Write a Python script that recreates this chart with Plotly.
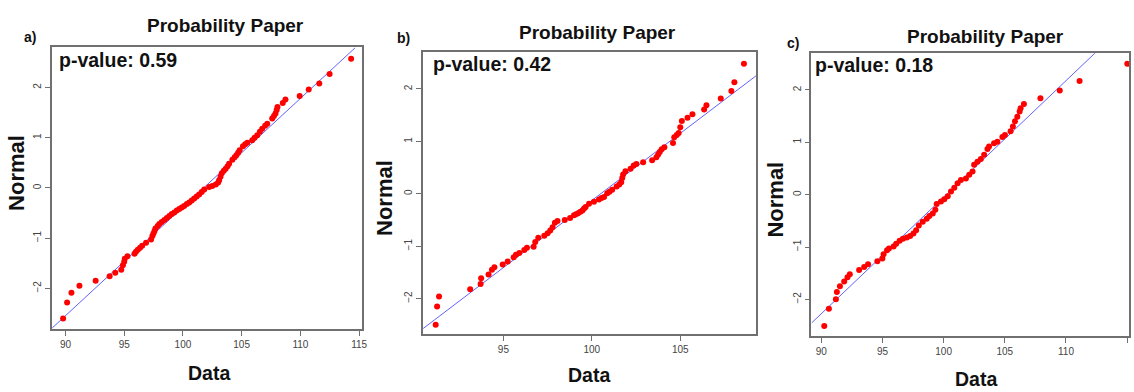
import plotly.graph_objects as go

W, H = 1134, 392

# ---------------- data ----------------
a_x = [89.80, 90.14, 90.51, 91.19, 92.57, 93.76, 94.24, 94.75, 94.89, 95.00, 95.05, 95.28, 95.88, 96.00,
       96.16, 96.35, 96.53, 96.86, 97.29, 97.40, 97.49, 97.58, 97.66, 97.85, 97.99, 98.20, 98.42, 98.63,
       98.84, 99.05, 99.27, 99.48, 99.69, 99.90, 100.11, 100.33, 100.54, 100.75, 100.96, 101.17, 101.38,
       101.60, 101.81, 102.23, 102.50, 102.80, 103.00, 103.08, 103.20, 103.31, 103.48, 103.64, 103.80,
       103.93, 104.21, 104.40, 104.55, 104.70, 104.83, 105.11, 105.30, 105.48, 105.90, 106.10, 106.33,
       106.55, 106.75, 107.00, 107.18, 107.60, 107.75, 107.88, 107.98, 108.05, 108.50, 108.73, 109.94,
       110.71, 111.61, 112.49, 114.32]
a_y = [-2.60, -2.28, -2.09, -1.95, -1.85, -1.76, -1.69, -1.63, -1.54, -1.47, -1.41, -1.36, -1.31, -1.27,
       -1.23, -1.19, -1.15, -1.09, -1.03, -0.96, -0.91, -0.86, -0.81, -0.76, -0.72, -0.68, -0.64, -0.60,
       -0.56, -0.52, -0.49, -0.45, -0.42, -0.39, -0.36, -0.32, -0.29, -0.25, -0.21, -0.17, -0.13,
       -0.08, -0.03, 0.02, 0.04, 0.07, 0.11, 0.15, 0.22, 0.29, 0.34, 0.38, 0.43,
       0.48, 0.56, 0.61, 0.65, 0.70, 0.75, 0.83, 0.87, 0.90, 0.95, 1.00, 1.05,
       1.12, 1.18, 1.24, 1.28, 1.38, 1.43, 1.48, 1.55, 1.61, 1.69, 1.76, 1.83,
       1.96, 2.08, 2.27, 2.57]
a_line_x = [88.87, 114.66]
a_line_y = [-2.79, 2.79]

b_x = [91.17, 91.25, 91.36, 93.12, 93.71, 93.74, 94.16, 94.35, 94.49, 94.96, 95.24, 95.58, 95.71, 95.90,
       96.18, 96.33, 96.71, 96.80, 96.97, 97.31, 97.50, 97.65, 97.78, 97.91, 98.06, 98.47, 98.77, 98.99,
       99.10, 99.22, 99.35, 99.47, 99.56, 99.65, 99.84, 100.12, 100.40, 100.55, 100.69, 100.87, 101.00,
       101.15, 101.40, 101.55, 101.66, 101.72, 101.77, 101.90, 102.19, 102.37, 102.52, 102.90, 103.41,
       103.65, 103.75, 103.84, 103.95, 104.10, 104.59, 104.66, 104.80, 104.91, 105.00, 105.09, 105.41,
       105.69, 106.35, 106.48, 107.29, 107.89, 108.06, 108.60]
b_y = [-2.50, -2.15, -1.96, -1.82, -1.72, -1.61, -1.54, -1.45, -1.40, -1.35, -1.29, -1.21, -1.16, -1.13,
       -1.07, -1.03, -1.01, -0.92, -0.84, -0.80, -0.75, -0.70, -0.64, -0.55, -0.52, -0.50, -0.46, -0.41,
       -0.39, -0.37, -0.34, -0.32, -0.28, -0.25, -0.19, -0.15, -0.11, -0.08, -0.06, 0.01, 0.04,
       0.08, 0.14, 0.18, 0.22, 0.30, 0.37, 0.43, 0.48, 0.54, 0.57, 0.60, 0.64,
       0.70, 0.75, 0.80, 0.85, 0.89, 0.97, 1.08, 1.12, 1.16, 1.27, 1.39, 1.45,
       1.52, 1.61, 1.69, 1.82, 1.96, 2.13, 2.48]
b_line_x = [90.46, 109.28]
b_line_y = [-2.57, 2.25]

c_x = [90.24, 90.62, 91.19, 91.27, 91.52, 91.87, 92.14, 92.33, 93.09, 93.50, 93.82, 94.58, 94.99, 95.09,
       95.37, 95.53, 95.91, 96.12, 96.40, 96.67, 96.99, 97.26, 97.53, 97.75, 97.97, 98.29, 98.62, 98.83,
       99.11, 99.32, 99.43, 99.78, 100.05, 100.33, 100.60, 100.87, 101.14, 101.41, 101.82, 102.09, 102.36,
       102.49, 102.76, 103.04, 103.31, 103.58, 103.71, 104.12, 104.39, 104.80, 105.01, 105.47, 105.66,
       105.83, 106.02, 106.21, 106.29, 106.56, 107.91, 109.49, 111.11, 115.01]
c_y = [-2.51, -2.18, -2.00, -1.86, -1.75, -1.66, -1.58, -1.52, -1.44, -1.38, -1.33, -1.27, -1.22, -1.14,
       -1.06, -1.03, -0.99, -0.94, -0.88, -0.84, -0.82, -0.79, -0.74, -0.68, -0.59, -0.52, -0.46, -0.41,
       -0.36, -0.29, -0.18, -0.13, -0.09, -0.03, 0.06, 0.13, 0.22, 0.28, 0.31, 0.38, 0.44,
       0.57, 0.63, 0.68, 0.76, 0.87, 0.92, 0.98, 1.01, 1.10, 1.14, 1.21, 1.30,
       1.40, 1.49, 1.59, 1.65, 1.73, 1.84, 1.99, 2.17, 2.50]
c_line_x = [89.21, 112.44]
c_line_y = [-2.45, 2.72]

panel_labels = ["a)", "b)", "c)"]
p_values = ["p-value: 0.59", "p-value: 0.42", "p-value: 0.18"]
title_text = "Probability Paper"
x_title = "Data"
y_title = "Normal"
a_xticks = [90, 95, 100, 105, 110, 115]
b_xticks = [95, 100, 105]
c_xticks = [90, 95, 100, 105, 110, 115]
y_ticks = [-2, -1, 0, 1, 2]

# ---------------- layout geometry (pixels) ----------------
panels = [
    dict(xs=a_x, ys=a_y, lx=a_line_x, ly=a_line_y, xr=[88.86, 115.28], yr=[-2.81, 2.80], xt=a_xticks,
         box=(52.3, 364.0, 47.3, 329.0), title=(227, 25), lab=(30, 37), pv=(57, 60), yl=(16, 173), xl=(210, 373)),
    dict(xs=b_x, ys=b_y, lx=b_line_x, ly=b_line_y, xr=[90.46, 109.28], yr=[-2.68, 2.70], xt=b_xticks,
         box=(425.0, 759.3, 52.3, 334.3), title=(600, 33), lab=(405, 38), pv=(432.7, 64), yl=(386.7, 198), xl=(591.7, 375)),
    dict(xs=c_x, ys=c_y, lx=c_line_x, ly=c_line_y, xr=[89.19, 115.15], yr=[-2.70, 2.70], xt=c_xticks,
         box=(815.0, 1134.0, 53.3, 336.0), title=(990, 36), lab=(796.7, 42.7), pv=(817, 65), yl=(778, 200), xl=(980, 379)),
]

FONT = "Liberation Sans, Arial, sans-serif"
AXC = "#707070"

fig = go.Figure()
annotations = []
layout = dict(width=W, height=H, margin=dict(l=0, r=0, t=0, b=0), paper_bgcolor="white",
              plot_bgcolor="white", showlegend=False)

def px(x):
    return x / W

def py(y):
    return 1 - y / H

for i, p in enumerate(panels):
    k = "" if i == 0 else str(i + 1)
    xa, ya = "x" + k, "y" + k
    fig.add_trace(go.Scatter(x=p["lx"], y=p["ly"], mode="lines", xaxis=xa, yaxis=ya,
                             line=dict(color="rgba(70,70,255,0.85)", width=1), hoverinfo="skip"))
    fig.add_trace(go.Scatter(x=p["xs"], y=p["ys"], mode="markers", xaxis=xa, yaxis=ya,
                             marker=dict(color="#ff0000", size=6, line=dict(width=0))))
    l, r, t, b = p["box"]
    common = dict(showline=True, mirror=True, linecolor=AXC, linewidth=1.5, ticks="outside", ticklen=5,
                  tickcolor=AXC, tickwidth=1, showgrid=False, zeroline=False,
                  tickfont=dict(family=FONT, size=10, color="#444"))
    layout["xaxis" + k] = dict(domain=[px(l), min(px(r), 1.0)], range=p["xr"], tickvals=p["xt"],
                               anchor=ya, **common)
    layout["yaxis" + k] = dict(domain=[py(b), py(t)], range=p["yr"], tickvals=y_ticks,
                               tickangle=-90, anchor=xa, **common)
    annotations += [
        dict(text="<b>" + title_text + "</b>", x=px(p["title"][0]), y=py(p["title"][1]), xref="paper", yref="paper",
             xanchor="center", yanchor="middle", showarrow=False, font=dict(family=FONT, size=19, color="#111")),
        dict(text="<b>" + panel_labels[i] + "</b>", x=px(p["lab"][0]), y=py(p["lab"][1]), xref="paper", yref="paper",
             xanchor="center", yanchor="middle", showarrow=False, font=dict(family=FONT, size=14, color="#111")),
        dict(text="<b>" + p_values[i] + "</b>", x=px(p["pv"][0]), y=py(p["pv"][1]), xref="paper", yref="paper",
             xanchor="left", yanchor="middle", showarrow=False, font=dict(family=FONT, size=19.5, color="#111")),
        dict(text="<b>" + y_title + "</b>", x=px(p["yl"][0]), y=py(p["yl"][1]), xref="paper", yref="paper",
             xanchor="center", yanchor="middle", showarrow=False, textangle=-90,
             font=dict(family=FONT, size=22, color="#111")),
        dict(text="<b>" + x_title + "</b>", x=px(p["xl"][0]), y=py(p["xl"][1]), xref="paper", yref="paper",
             xanchor="center", yanchor="middle", showarrow=False, font=dict(family=FONT, size=19.5, color="#111")),
    ]

layout["annotations"] = annotations
fig.update_layout(**layout)
fig.write_html("out.html")
